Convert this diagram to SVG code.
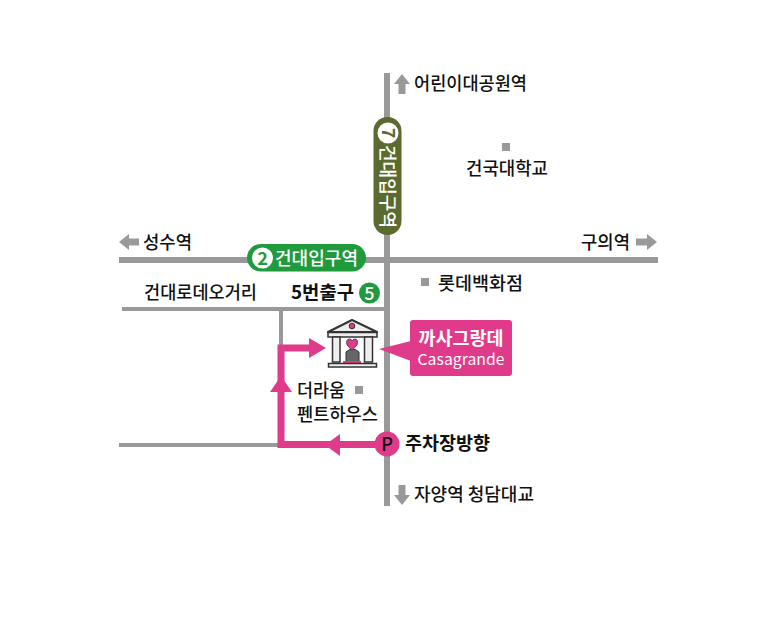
<svg xmlns="http://www.w3.org/2000/svg" width="773" height="617" viewBox="0 0 773 617">
<style>
text{font-family:"Noto Sans CJK KR","Noto Sans",sans-serif;font-size:18.500px;fill:#111;font-weight:500}
.b{font-weight:700}
.w{fill:#fff}
.m{fill:none;stroke:#999;stroke-width:6}
.t{fill:none;stroke:#999;stroke-width:4}
.p{fill:none;stroke:#e03a8a;stroke-width:7}
.pf{fill:#e03a8a}
.g{fill:#999}
</style>
<rect width="773" height="617" fill="#fff"/>
<g id="connectors">
<path class="m" d="M387 73V506"/>
<path class="m" d="M119 260H658"/>
<path class="t" d="M122 309H387"/>
<path class="t" d="M281 309V345"/>
<path class="t" d="M119 445H280"/>
<path class="p" d="M387 444.500H281V348H312"/>
<polygon class="pf" points="270,392 281,376 292,392"/>
<polygon class="pf" points="309,338 326,348 309,358"/>
<polygon class="pf" points="340,434 325,445 340,456"/>
<polygon class="g" points="402,74 410,84 405.500,84 405.500,94 398.500,94 398.500,84 394,84"/>
<polygon class="g" points="402,505 410,495 405.500,495 405.500,485 398.500,485 398.500,495 394,495"/>
<polygon class="g" points="119,242 129,234 129,238.500 139,238.500 139,245.500 129,245.500 129,250"/>
<polygon class="g" points="657,242 647,234 647,238.500 636,238.500 636,245.500 647,245.500 647,250"/>
</g>
<g id="line7">
<rect x="373.500" y="117" width="28" height="118" rx="14" fill="#5b6b2f"/>
<circle cx="388" cy="133" r="10.500" fill="#fff"/>
<text transform="translate(388 133) rotate(90)" text-anchor="middle" y="6.500" style="font-size:18px;fill:#5b6b2f" class="b">7</text>
<text transform="translate(381 145) rotate(90)" class="w" style="font-size:18.500px" textLength="83" lengthAdjust="spacingAndGlyphs">건대입구역</text>
</g>
<g id="line2">
<rect x="247" y="244" width="119" height="27.500" rx="13.750" fill="#1f9a3c"/>
<circle cx="262.500" cy="258" r="10.500" fill="#fff"/>
<text x="262.500" y="264.500" text-anchor="middle" class="b" style="font-size:18px;fill:#1f9a3c">2</text>
<text x="275" y="264.500" class="w" style="font-size:18.500px" textLength="83" lengthAdjust="spacingAndGlyphs">건대입구역</text>
</g>
<g id="exit5">
<text x="291" y="298.500" class="b" textLength="63" lengthAdjust="spacingAndGlyphs">5번출구</text>
<circle cx="369.500" cy="293" r="10.500" fill="#1f9a3c"/>
<text x="369.500" y="299.500" text-anchor="middle" class="w" style="font-size:18px">5</text>
</g>
<g id="labels">
<text x="414" y="89.500" textLength="113" lengthAdjust="spacingAndGlyphs">어린이대공원역</text>
<rect x="502" y="143" width="8" height="8" class="g"/>
<text x="466" y="174.500" textLength="82" lengthAdjust="spacingAndGlyphs">건국대학교</text>
<text x="143" y="248.500" textLength="49" lengthAdjust="spacingAndGlyphs">성수역</text>
<text x="581" y="248.500" textLength="49" lengthAdjust="spacingAndGlyphs">구의역</text>
<rect x="421" y="278" width="8" height="8" class="g"/>
<text x="438" y="289.500" textLength="85" lengthAdjust="spacingAndGlyphs">롯데백화점</text>
<text x="144" y="298.500" textLength="113" lengthAdjust="spacingAndGlyphs">건대로데오거리</text>
<text x="297" y="396.500" textLength="48" lengthAdjust="spacingAndGlyphs">더라움</text>
<rect x="355" y="386" width="8" height="8" class="g"/>
<text x="297" y="420.500" textLength="81" lengthAdjust="spacingAndGlyphs">펜트하우스</text>
<text x="414" y="500.500" textLength="120" lengthAdjust="spacingAndGlyphs">자양역 청담대교</text>
</g>
<g id="building">
<path d="M328 332L352 320L377 332Z" fill="#eee" stroke="#333" stroke-width="2" stroke-linejoin="round"/>
<circle cx="352" cy="326" r="2.800" fill="#e03a8a" stroke="#333"/>
<rect x="328" y="332.500" width="49" height="4.500" fill="#eee" stroke="#333" stroke-width="1.500"/>
<rect x="332.500" y="337" width="7.500" height="25" fill="#eee" stroke="#333" stroke-width="1.500"/>
<rect x="364.500" y="337" width="8" height="25" fill="#eee" stroke="#333" stroke-width="1.500"/>
<path d="M346 361.500V352Q352.500 346 359 352V361.500Z" fill="#666" stroke="#333"/>
<path d="M352 350.500L347 345Q345.500 339 349.500 339Q351.500 339 352 341Q353 339 355 339Q358.500 339 357 345Z" fill="#e03a8a" stroke="#333" stroke-width="0.800"/>
<rect x="343" y="361" width="18" height="2.500" fill="#e03a8a"/>
<rect x="328.500" y="363.500" width="48" height="3.500" fill="#eee" stroke="#333" stroke-width="1.500"/>
</g>
<g id="casagrande">
<polygon class="pf" points="411,341 411,361 379,349"/>
<rect x="410" y="320" width="102" height="56" rx="3" class="pf"/>
<text x="461" y="344.500" text-anchor="middle" class="w b" style="font-size:18.500px" textLength="85" lengthAdjust="spacingAndGlyphs">까사그랑데</text>
<text x="461" y="365" text-anchor="middle" class="w" style="font-size:15px;font-weight:400" textLength="87" lengthAdjust="spacingAndGlyphs">Casagrande</text>
</g>
<g id="parking">
<circle cx="387" cy="444" r="12.500" class="pf"/>
<text x="387" y="450.500" text-anchor="middle" style="font-size:18px">P</text>
<text x="405" y="449.500" class="b" textLength="85" lengthAdjust="spacingAndGlyphs">주차장방향</text>
</g>
</svg>
